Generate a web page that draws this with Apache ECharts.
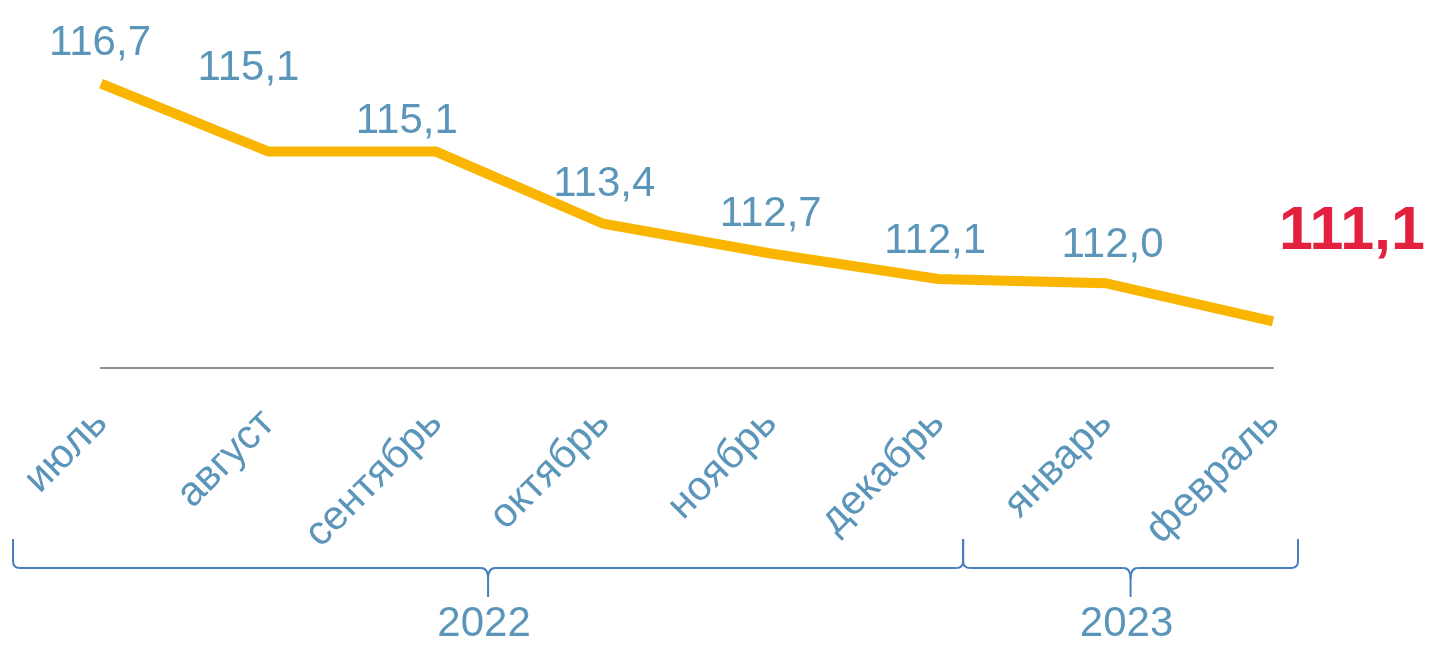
<!DOCTYPE html>
<html>
<head>
<meta charset="utf-8">
<script src="https://cdn.jsdelivr.net/npm/echarts@6/dist/echarts.min.js"></script>
<style>
html,body{margin:0;padding:0;background:#fff;}
#chart{width:1429px;height:649px;}
</style>
</head>
<body>
<div id="chart"></div>
<script>
// ---- data ----
const months = ['июль','август','сентябрь','октябрь','ноябрь','декабрь','январь','февраль'];
const values = [116.7, 115.1, 115.1, 113.4, 112.7, 112.1, 112.0, 111.1];
const years = ['2022', '2023'];
const monthsPerYear = [6, 2];

// ---- styling / layout (not data) ----
const BLUE = '#5B96BA';
const BRACE = '#4A7EBF';
const labelOffsets = [[-1,-40],[-20,-83],[-29,-30],[1,-39],[0,-39],[-3,-37],[7,-38],[79,-89]];
const FONT = "'Liberation Sans', Arial, sans-serif";

const chart = echarts.init(document.getElementById('chart'), null, {renderer: 'canvas'});

const seriesData = values.map(function (v, i) {
  const last = i === values.length - 1;
  return {
    value: v,
    label: {
      offset: labelOffsets[i],
      color: last ? '#E3213F' : BLUE,
      fontSize: last ? 61 : 42,
      fontWeight: last ? 'bold' : 'normal'
    }
  };
});

chart.setOption({
  animation: false,
  grid: {left: 101, right: 156, top: 71, bottom: 281, containLabel: false},
  xAxis: {
    type: 'category',
    data: months,
    boundaryGap: false,
    axisLine: {show: true, lineStyle: {color: '#8C8C8C', width: 2}},
    axisTick: {show: false},
    splitLine: {show: false},
    axisLabel: {
      interval: 0,
      rotate: 45,
      margin: 49,
      fontSize: 41,
      color: BLUE,
      fontFamily: FONT
    }
  },
  yAxis: {
    type: 'value',
    min: 110,
    max: 117,
    show: false,
    splitLine: {show: false}
  },
  series: [{
    type: 'line',
    data: seriesData,
    symbol: 'circle',
    symbolSize: 1,
    showSymbol: true,
    itemStyle: {color: 'rgba(0,0,0,0)'},
    lineStyle: {color: '#F9B500', width: 10, cap: 'butt', join: 'miter'},
    label: {
      show: true,
      position: 'inside',
      fontFamily: FONT,
      formatter: function (p) { return p.value.toFixed(1).replace('.', ','); }
    }
  }]
});

// ---- year braces under the axis labels ----
function px(i) { return chart.convertToPixel({xAxisIndex: 0}, i); }
const braceStyle = {stroke: BRACE, lineWidth: 2, fill: null};
function seg(x1, y1, x2, y2) {
  return {type: 'line', shape: {x1: x1, y1: y1, x2: x2, y2: y2}, style: braceStyle, silent: true};
}
function curve(x1, y1, cx, cy, x2, y2) {
  return {type: 'bezierCurve', shape: {x1: x1, y1: y1, cpx1: cx, cpy1: cy, x2: x2, y2: y2}, style: braceStyle, silent: true};
}
function brace(list, x1, x2, xm, yTop, yMid, yTip, r) {
  list.push(seg(x1, yTop, x1, yMid - r));
  list.push(curve(x1, yMid - r, x1, yMid, x1 + r, yMid));
  list.push(seg(x1 + r, yMid, xm - r, yMid));
  list.push(curve(xm - r, yMid, xm, yMid, xm, yMid + r + 4));
  list.push(curve(xm + r, yMid, xm, yMid, xm, yMid + r + 4));
  list.push(seg(xm, yMid + r + 4, xm, yTip));
  list.push(seg(xm + r, yMid, x2 - r, yMid));
  list.push(curve(x2 - r, yMid, x2, yMid, x2, yMid - r));
  list.push(seg(x2, yMid - r, x2, yTop));
}
const graphics = [];
let start = 0;
let bLeft = px(0) - 88;
years.forEach(function (y, k) {
  const endIdx = start + monthsPerYear[k] - 1;
  const bRight = px(endIdx) + 25;
  const mid = (bLeft + bRight) / 2;
  brace(graphics, bLeft, bRight, mid, 539, 568, 597, 7);
  graphics.push({
    type: 'text',
    x: mid - 4,
    y: 624,
    silent: true,
    style: {text: y, fill: BLUE, fontSize: 42, fontFamily: FONT, align: 'center', verticalAlign: 'middle'}
  });
  start = endIdx + 1;
  bLeft = bRight;
});
chart.setOption({graphic: {elements: graphics}});
</script>
</body>
</html>
